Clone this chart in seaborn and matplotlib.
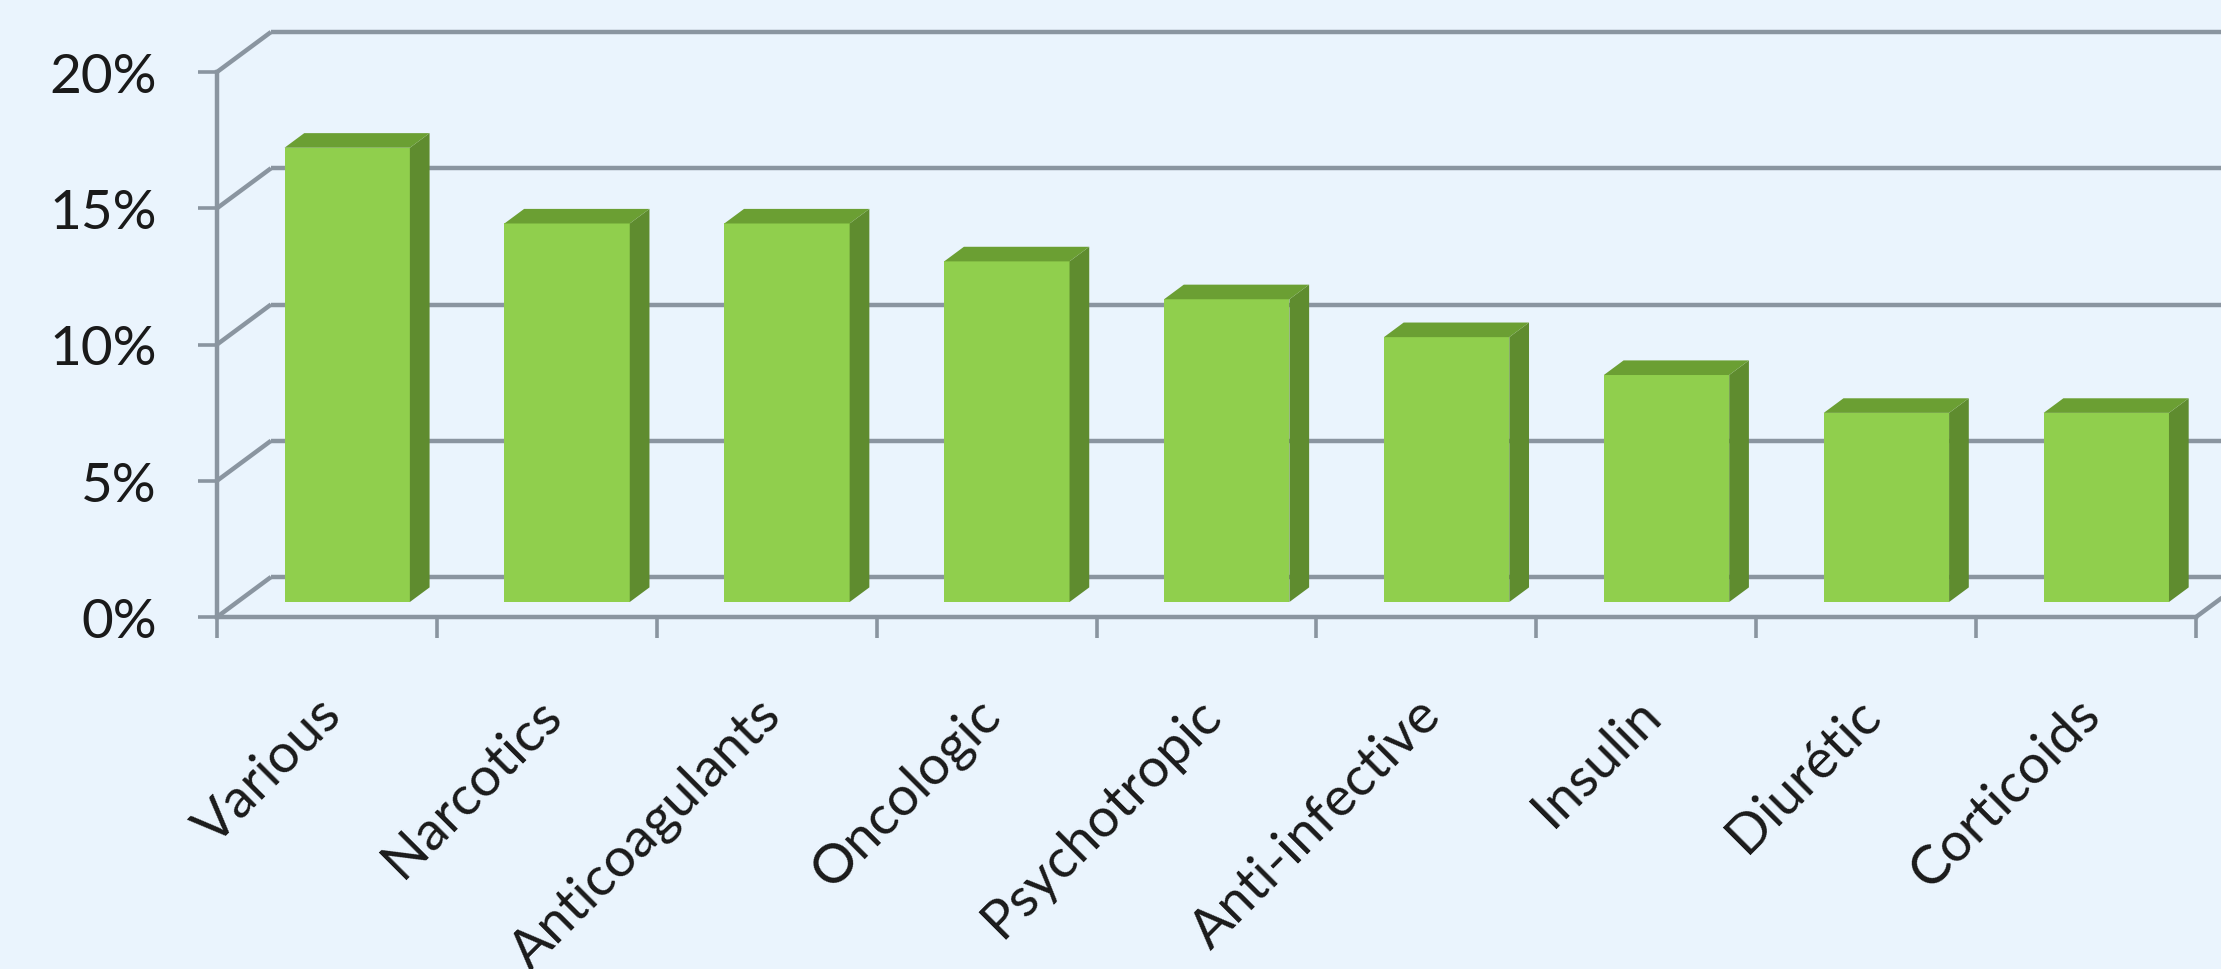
import numpy as np
import pandas as pd
import matplotlib
matplotlib.use("Agg")
import matplotlib.pyplot as plt
from matplotlib import transforms
from matplotlib.patches import Polygon
from matplotlib.ticker import PercentFormatter
import seaborn as sns

# ---- data -------------------------------------------------------------
categories = ["Various", "Narcotics", "Anticoagulants", "Oncologic",
              "Psychotropic", "Anti-infective", "Insulin", "Diurétic",
              "Corticoids"]
shares = [0.1667, 0.1389, 0.1389, 0.1250, 0.1111, 0.0972, 0.0833, 0.0694, 0.0694]
y_ticks = [0.0, 0.05, 0.10, 0.15, 0.20]

# ---- style ------------------------------------------------------------
BG = "#EAF4FD"
FRONT = "#90CF4D"
SIDE = "#5F8C2F"
TOP = "#6B9F33"
GRID = "#8A95A0"
TXT = "#1A1A1A"
FONT_SIZE = 39.5

sns.set_theme(style="white")
plt.rcParams["font.family"] = ["Lato", "DejaVu Sans"]

W, H, DPI = 2221, 970, 100
fig = plt.figure(figsize=(W / DPI, H / DPI), dpi=DPI, facecolor=BG)
ax = fig.add_axes([217 / W, 352 / H, 1979 / W, 545 / H])
ax.set_facecolor(BG)

df = pd.DataFrame({"category": categories, "share": shares})
sns.barplot(data=df, x="category", y="share", color=FRONT, saturation=1,
            width=0.57, linewidth=0, ax=ax, zorder=3)
n = len(categories)
ax.set_xlim(-0.5, n - 0.5)
ax.set_ylim(0, 0.20)

# oblique depth of the floor/back wall, converted from pixels to data units
DEPTH_PX = (54, 40)
dxd = DEPTH_PX[0] / (ax.bbox.width / n)
dyd = DEPTH_PX[1] / (ax.bbox.height / 0.20)
D0, D1 = 0.375, 0.74          # bar front / back depth fractions

LW = 3.2
line_kw = dict(color=GRID, lw=LW, clip_on=False, solid_capstyle="butt")

# back wall gridlines and left-wall diagonals
for v in y_ticks:
    ax.plot([-0.5 + dxd, n - 0.5 + dxd], [v + dyd, v + dyd], zorder=1, **line_kw)
    ax.plot([-0.5, -0.5 + dxd], [v, v + dyd], zorder=1, **line_kw)
# right edge of the floor
ax.plot([n - 0.5, n - 0.5 + dxd], [0, dyd], zorder=1, **line_kw)

# push bars into depth and add their side and top faces
for p in list(ax.patches):
    x, w, h = p.get_x(), p.get_width(), p.get_height()
    xl = x + D0 * dxd
    yb = D0 * dyd
    p.set_x(xl)
    p.set_y(yb)
    xr = xl + w
    yt = yb + h
    ddx, ddy = (D1 - D0) * dxd, (D1 - D0) * dyd
    side = Polygon([(xr, yb), (xr + ddx, yb + ddy), (xr + ddx, yt + ddy), (xr, yt)],
                   closed=True, facecolor=SIDE, edgecolor="none", zorder=3,
                   clip_on=False)
    top = Polygon([(xl, yt), (xr, yt), (xr + ddx, yt + ddy), (xl + ddx, yt + ddy)],
                  closed=True, facecolor=TOP, edgecolor="none", zorder=3,
                  clip_on=False)
    ax.add_patch(side)
    ax.add_patch(top)

# axes: front floor line and front vertical axis
for s in ["top", "right"]:
    ax.spines[s].set_visible(False)
for s in ["left", "bottom"]:
    ax.spines[s].set_color(GRID)
    ax.spines[s].set_linewidth(LW)
    ax.spines[s].set_zorder(2)

ax.set_xlabel("")
ax.set_ylabel("")
ax.set_yticks(y_ticks)
ax.yaxis.set_major_formatter(PercentFormatter(1.0, decimals=0))
ax.tick_params(axis="y", length=13.5, width=2.6, color=GRID, pad=30,
               labelsize=FONT_SIZE, labelcolor=TXT, direction="out", left=True)

ax.set_xticks(range(n))
ax.set_xticklabels(categories, rotation=45, ha="right", va="center",
                   rotation_mode="anchor")
ax.set_xticks(np.arange(-0.5, n, 1.0), minor=True)
ax.tick_params(axis="x", which="major", length=0, pad=64, labelsize=FONT_SIZE,
               labelcolor=TXT)
ax.tick_params(axis="x", which="minor", length=15, width=2.6, color=GRID,
               direction="out", bottom=True)
shift = transforms.ScaledTranslation(6 / DPI, 0, fig.dpi_scale_trans)
for lbl in ax.get_xticklabels():
    lbl.set_transform(lbl.get_transform() + shift)

fig.savefig("out.png", dpi=DPI, facecolor=BG)
